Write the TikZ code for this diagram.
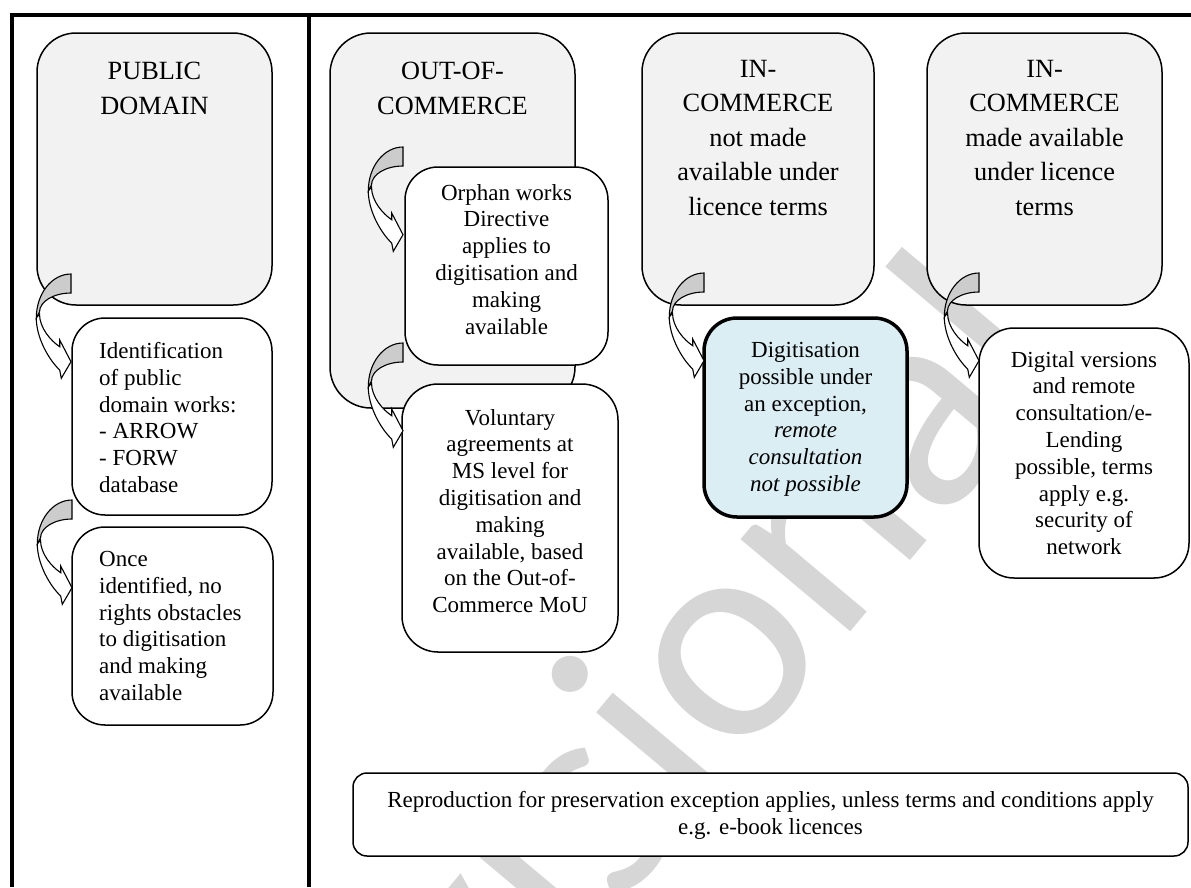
\documentclass[tikz,border=0pt]{standalone}
\usepackage{fontspec}
\setmainfont{Liberation Serif}
\newfontfamily\markfont{Carlito}
\usetikzlibrary{calc}

\definecolor{panelgray}{HTML}{F2F2F2}
\definecolor{foldgray}{HTML}{CCCCCC}
\definecolor{noteblue}{HTML}{DAEEF3}
\definecolor{markgray}{HTML}{D6D6D6}

\tikzset{
  panel/.style={draw=black, line width=1.5pt, fill=panelgray, rounded corners=#1,
    inner sep=0pt, outer sep=0pt, anchor=north west},
  card/.style={draw=black, line width=1.5pt, fill=white, rounded corners=#1,
    inner sep=0pt, outer sep=0pt, anchor=north west},
  headtext/.style={font=\fontsize{26.3}{34.5}\selectfont, align=center,
    inner sep=0pt, anchor=north},
  bodytext/.style={font=\fontsize{23}{26.8}\selectfont, align=center,
    inner sep=0pt, anchor=north},
  lefttext/.style={font=\fontsize{23}{26.8}\selectfont, align=left,
    inner sep=0pt, anchor=north west},
  rule/.style={line width=3.5pt},
  % curved "drop-down" arrow: origin is the top of the folded band
  curvarrow/.pic={
    \draw[line width=1.1pt, fill=foldgray]
      (0,0) .. controls (-19.2,0) and (-34.7,19.7) .. (-34.7,44)
      -- (-31.5,38) .. controls (-31.5,27.5) and (-17.4,19) .. (0,19) -- cycle;
    \draw[line width=1.1pt, fill=white]
      (-34.7,44) .. controls (-34.7,64) and (-22,86) .. (-11.3,96)
      -- (-9.7,104.3) -- (0,87.7) -- (-11.3,66) -- (-11.3,72.7)
      .. controls (-20,67) and (-31.5,54) .. (-31.5,40) -- cycle;
  }
}

\begin{document}
\begin{tikzpicture}[x=1pt, y=-1pt]
\useasboundingbox (0,0) rectangle (1191,887);
\fill[white] (0,0) rectangle (1191,887);

% watermark behind everything
\begin{scope}
  \clip (0,0) rectangle (1191,887);
  \node[rotate=50, anchor=base east, text=markgray, inner sep=0pt,
        font=\markfont\fontsize{300}{300}\selectfont] (mark) at (1076,364) {Provisional};
\end{scope}

% table frame
\draw[rule] (1191,15) -- (12,15) -- (12,887);
\draw[rule] (309,15) -- (309,887);

% public domain column
\node[panel=39pt, minimum width=235pt, minimum height=272pt] (pd) at (37,33) {};
\node[headtext] (pd-text) at (154.5,62) {PUBLIC\\DOMAIN};
\node[card=33pt, minimum width=200pt, minimum height=197pt] (ident) at (72,318) {};
\node[lefttext] (ident-text) at (99,342) {Identification\\of public\\domain works:\\- ARROW\\- FORW\\database};
\node[card=33pt, minimum width=201pt, minimum height=198pt] (once) at (72,527) {};
\node[lefttext] (once-text) at (99,551) {Once\\identified, no\\rights obstacles\\to digitisation\\and making\\available};

% out-of-commerce
\node[panel=41pt, minimum width=245pt, minimum height=375pt] (ooc) at (330,33) {};
\node[headtext] (ooc-text) at (452.5,62) {OUT-OF-\\COMMERCE};
\node[card=33pt, minimum width=203pt, minimum height=198pt] (orphan) at (405,167) {};
\node[bodytext] (orphan-text) at (506.5,184) {Orphan works\\Directive\\applies to\\digitisation and\\making\\available};
\node[card=36pt, minimum width=216pt, minimum height=268pt] (vol) at (402,384) {};
\node[bodytext] (vol-text) at (510,409) {Voluntary\\agreements at\\MS level for\\digitisation and\\making\\available, based\\on the Out-of-\\Commerce MoU};

% in-commerce, not licensed
\node[panel=39pt, minimum width=232pt, minimum height=272pt] (inc) at (642,33) {};
\node[headtext] (inc-text) at (758,60) {IN-\\COMMERCE\\not made\\available under\\licence terms};
\node[card=33pt, line width=3.5pt, fill=noteblue, minimum width=203pt, minimum height=199pt] (exc) at (704,318) {};
\node[bodytext] (exc-text) at (805.5,342) {Digitisation\\possible under\\an exception,\\\textit{remote}\\\textit{consultation}\\\textit{not possible}};

% in-commerce, licensed
\node[panel=39pt, minimum width=235pt, minimum height=272pt] (lic) at (927,33) {};
\node[headtext] (lic-text) at (1044.5,60) {IN-\\COMMERCE\\made available\\under licence\\terms};
\node[card=35pt, minimum width=210pt, minimum height=250pt] (dig) at (979,328) {};
\node[bodytext] (dig-text) at (1084,351) {Digital versions\\and remote\\consultation/e-\\Lending\\possible, terms\\apply e.g.\\security of\\network};

% preservation exception
\node[card=14pt, minimum width=835pt, minimum height=83pt] (repro) at (353,773) {};
\node[bodytext] (repro-text) at (770.5,791) {Reproduction for preservation exception applies, unless terms and conditions apply\\e.g. e-book licences};

% curved arrows from each box to the one it leads to
\pic at ($(ident.north west)+(-1,-44)$) {curvarrow};
\pic at ($(once.north west)+(0,-27)$) {curvarrow};
\pic at ($(orphan.north west)+(-2,-20)$) {curvarrow};
\pic at ($(vol.north west)+(1,-41)$) {curvarrow};
\pic at ($(exc.north west)+(0,-45)$) {curvarrow};
\pic at ($(dig.north west)+(0,-55)$) {curvarrow};
\end{tikzpicture}
\end{document}
